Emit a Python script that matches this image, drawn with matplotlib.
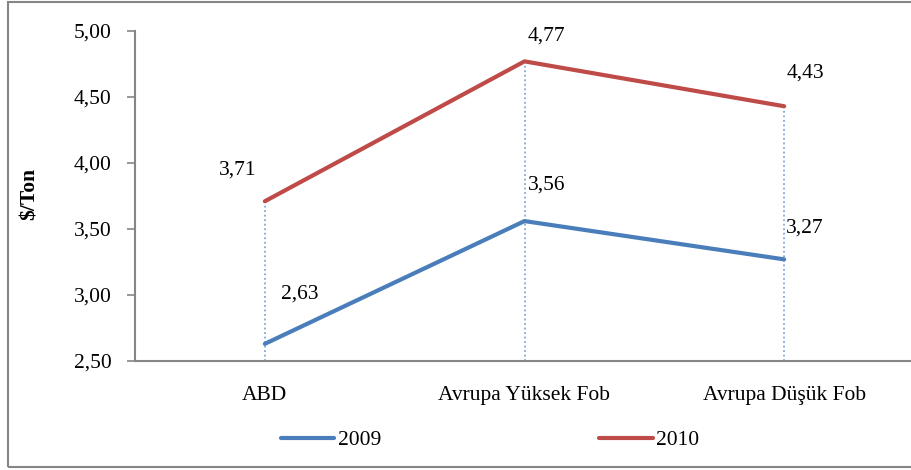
import matplotlib.pyplot as plt
from matplotlib.patches import Rectangle

categories = ["ABD", "Avrupa Yüksek Fob", "Avrupa Düşük Fob"]
values_2009 = [2.63, 3.56, 3.27]
values_2010 = [3.71, 4.77, 4.43]
yticks = [2.50, 3.00, 3.50, 4.00, 4.50, 5.00]

# label offsets in pixels (dx, dy)
offs_2009 = [(35, 50), (22, 36), (21, 31)]
offs_2010 = [(-27, 31), (22, 25), (21, 33)]

plt.rcParams["font.family"] = ["Liberation Serif", "DejaVu Serif"]
plt.rcParams["font.size"] = 15.5

fig = plt.figure(figsize=(9.11, 4.70), dpi=100)
ax = fig.add_axes([135 / 911, 1 - 361 / 470, 779 / 911, 330 / 470])
ax.set_clip_on(False)

# outer frame
fig.patches.append(Rectangle((7.5 / 911, 3 / 470), 1.0, 465.5 / 470, transform=fig.transFigure,
                             fill=False, edgecolor="#868686", linewidth=1.5))

x = list(range(len(categories)))

# drop lines
for xi, v in zip(x, values_2010):
    ax.plot([xi, xi], [2.5, v], color="#7fa7dd", linestyle=(0, (1, 1.5)), linewidth=1.3, zorder=1)

l1, = ax.plot(x, values_2009, color="#4a7ebb", linewidth=3, solid_capstyle="round", label="2009", zorder=3)
l2, = ax.plot(x, values_2010, color="#be4b48", linewidth=3, solid_capstyle="round", label="2010", zorder=3)

for xi, v, (dx, dy) in zip(x, values_2009, offs_2009):
    ax.annotate(f"{v:.2f}".replace(".", ","), (xi, v), xytext=(dx, dy), textcoords="offset pixels",
                ha="center", va="center")
for xi, v, (dx, dy) in zip(x, values_2010, offs_2010):
    ax.annotate(f"{v:.2f}".replace(".", ","), (xi, v), xytext=(dx, dy), textcoords="offset pixels",
                ha="center", va="center")

ax.set_xlim(-0.5, 2.5)
ax.set_ylim(2.5, 5.0)
ax.set_yticks(yticks)
ax.set_yticklabels([f"{t:.2f}".replace(".", ",") for t in yticks])
ax.set_xticks(x)
ax.set_xticklabels(categories)
ax.tick_params(axis="y", length=6, color="#868686", width=1.2, pad=11)
ax.tick_params(axis="x", length=0, pad=18)
for s in ["top", "right"]:
    ax.spines[s].set_visible(False)
for s in ["left", "bottom"]:
    ax.spines[s].set_color("#868686")
    ax.spines[s].set_linewidth(1.5)

fig.text(30 / 911, 1 - 194 / 470, "$/Ton", rotation=90, ha="center", va="center", fontweight="bold")

fig.legend(handles=[l1, l2], loc="center", bbox_to_anchor=(490 / 911, 1 - 440 / 470), ncol=2,
           frameon=False, handlelength=2.5, handletextpad=0.15, columnspacing=10.15)

fig.savefig("out.png", dpi=100)
